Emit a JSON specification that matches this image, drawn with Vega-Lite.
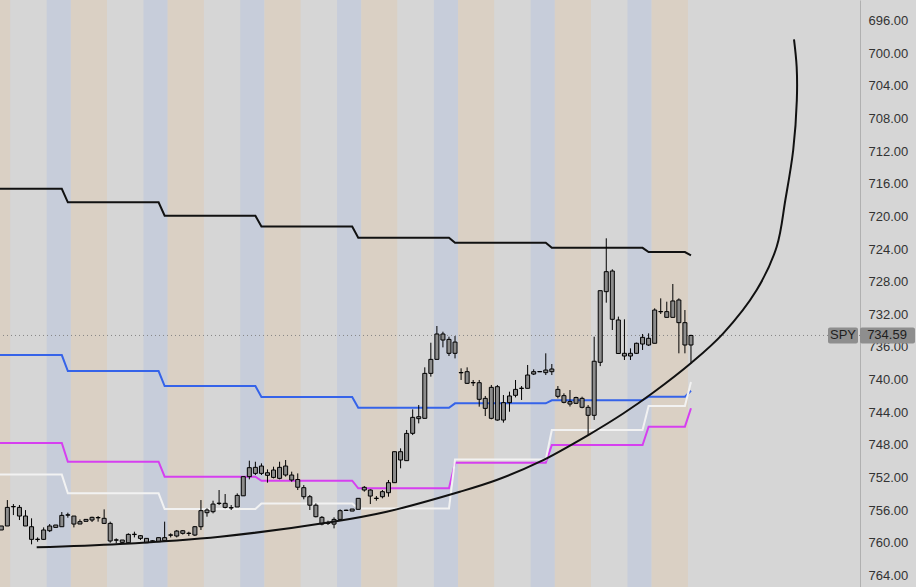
{
  "$schema": "https://vega.github.io/schema/vega-lite/v6.json",
  "width": 860,
  "height": 587,
  "autosize": {"type": "none"},
  "padding": {"left": 0, "top": 0, "right": 56, "bottom": 0},
  "background": "#d6d6d6",
  "config": {"view": {"stroke": null, "fill": "#d6d6d6"}, "font": "Liberation Sans", "axisY": {"labelOverlap": false}},
  "resolve": {"scale": {"color": "independent"}},
  "datasets": {
    "bands": [
      {"s": -0.5, "e": 5.5, "session": "pre"}, {"s": 5.5, "e": 11.5, "session": "rth"}, {"s": 11.5, "e": 15.5, "session": "post"},
      {"s": 15.5, "e": 21.5, "session": "pre"}, {"s": 21.5, "e": 27.5, "session": "rth"}, {"s": 27.5, "e": 31.5, "session": "post"},
      {"s": 31.5, "e": 37.5, "session": "pre"}, {"s": 37.5, "e": 43.5, "session": "rth"}, {"s": 43.5, "e": 47.5, "session": "post"},
      {"s": 47.5, "e": 53.5, "session": "pre"}, {"s": 53.5, "e": 59.5, "session": "rth"}, {"s": 59.5, "e": 63.5, "session": "post"},
      {"s": 63.5, "e": 69.5, "session": "pre"}, {"s": 69.5, "e": 75.5, "session": "rth"}, {"s": 75.5, "e": 79.5, "session": "post"},
      {"s": 79.5, "e": 85.5, "session": "pre"}, {"s": 85.5, "e": 91.5, "session": "rth"}, {"s": 91.5, "e": 95.5, "session": "post"},
      {"s": 95.5, "e": 101.5, "session": "pre"}, {"s": 101.5, "e": 107.5, "session": "rth"}, {"s": 107.5, "e": 111.5, "session": "post"},
      {"s": 111.5, "e": 117.5, "session": "pre"}
    ],
    "last": [{"sym": "SPY", "price": 734.59, "label": "734.59"}],
    "lines": [
      {"s": "black", "k": 3, "v": 716.6}, {"s": "black", "k": 14, "v": 716.6}, {"s": "black", "k": 15, "v": 718.27}, {"s": "black", "k": 30, "v": 718.27},
      {"s": "black", "k": 31, "v": 719.91}, {"s": "black", "k": 46, "v": 719.91}, {"s": "black", "k": 47, "v": 721.23}, {"s": "black", "k": 62, "v": 721.23},
      {"s": "black", "k": 63, "v": 722.6}, {"s": "black", "k": 78, "v": 722.6}, {"s": "black", "k": 79, "v": 723.23}, {"s": "black", "k": 94, "v": 723.23},
      {"s": "black", "k": 95, "v": 723.85}, {"s": "black", "k": 110, "v": 723.85}, {"s": "black", "k": 111, "v": 724.36}, {"s": "black", "k": 117, "v": 724.36},
      {"s": "black", "k": 118, "v": 724.77},
      {"s": "blue", "k": 3, "v": 736.99}, {"s": "blue", "k": 14, "v": 736.99}, {"s": "blue", "k": 15, "v": 738.95}, {"s": "blue", "k": 30, "v": 738.95},
      {"s": "blue", "k": 31, "v": 740.79}, {"s": "blue", "k": 46, "v": 740.79}, {"s": "blue", "k": 47, "v": 742.14}, {"s": "blue", "k": 62, "v": 742.14},
      {"s": "blue", "k": 63, "v": 743.46}, {"s": "blue", "k": 78, "v": 743.46}, {"s": "blue", "k": 79, "v": 742.91}, {"s": "blue", "k": 94, "v": 742.91},
      {"s": "blue", "k": 95, "v": 742.54}, {"s": "blue", "k": 110, "v": 742.54}, {"s": "blue", "k": 111, "v": 742.09}, {"s": "blue", "k": 117, "v": 742.09},
      {"s": "blue", "k": 118, "v": 741.38},
      {"s": "magenta", "k": 3, "v": 747.78}, {"s": "magenta", "k": 14, "v": 747.78}, {"s": "magenta", "k": 15, "v": 750.07}, {"s": "magenta", "k": 30, "v": 750.07},
      {"s": "magenta", "k": 31, "v": 751.91}, {"s": "magenta", "k": 46, "v": 751.91}, {"s": "magenta", "k": 47, "v": 752.4}, {"s": "magenta", "k": 62, "v": 752.4},
      {"s": "magenta", "k": 63, "v": 753.33}, {"s": "magenta", "k": 78, "v": 753.33}, {"s": "magenta", "k": 79, "v": 750.19}, {"s": "magenta", "k": 94, "v": 750.19},
      {"s": "magenta", "k": 95, "v": 748.02}, {"s": "magenta", "k": 110, "v": 748.02}, {"s": "magenta", "k": 111, "v": 745.77}, {"s": "magenta", "k": 117, "v": 745.77},
      {"s": "magenta", "k": 118, "v": 743.52},
      {"s": "white", "k": 3, "v": 751.65}, {"s": "white", "k": 14, "v": 751.65}, {"s": "white", "k": 15, "v": 753.95}, {"s": "white", "k": 30, "v": 753.95},
      {"s": "white", "k": 31, "v": 755.87}, {"s": "white", "k": 46, "v": 755.87}, {"s": "white", "k": 47, "v": 755.2}, {"s": "white", "k": 62, "v": 755.2},
      {"s": "white", "k": 63, "v": 755.8}, {"s": "white", "k": 78, "v": 755.8}, {"s": "white", "k": 79, "v": 749.8}, {"s": "white", "k": 94, "v": 749.8},
      {"s": "white", "k": 95, "v": 746.18}, {"s": "white", "k": 110, "v": 746.18}, {"s": "white", "k": 111, "v": 743.24}, {"s": "white", "k": 117, "v": 743.24},
      {"s": "white", "k": 118, "v": 740.3}
    ],
    "candles": [
      {"k": 4, "o": 757.95, "c": 758.44, "lo": 757.95, "hi": 758.44},
      {"k": 5, "o": 757.95, "c": 755.67, "lo": 754.77, "hi": 757.95},
      {"k": 6, "o": 755.56, "c": 755.6, "lo": 755.26, "hi": 756.61},
      {"k": 7, "o": 755.67, "c": 756.73, "lo": 755.38, "hi": 757.22},
      {"k": 8, "o": 756.73, "c": 757.95, "lo": 756.0, "hi": 757.95},
      {"k": 9, "o": 758.04, "c": 759.59, "lo": 757.01, "hi": 760.2},
      {"k": 10, "o": 759.57, "c": 759.61, "lo": 759.35, "hi": 759.88},
      {"k": 11, "o": 759.59, "c": 758.44, "lo": 758.12, "hi": 759.67},
      {"k": 12, "o": 758.53, "c": 757.95, "lo": 757.71, "hi": 758.69},
      {"k": 13, "o": 758.12, "c": 757.83, "lo": 757.83, "hi": 758.12},
      {"k": 14, "o": 758.04, "c": 756.65, "lo": 756.24, "hi": 758.04},
      {"k": 15, "o": 756.58, "c": 756.62, "lo": 756.32, "hi": 756.93},
      {"k": 16, "o": 756.73, "c": 757.71, "lo": 756.73, "hi": 758.12},
      {"k": 17, "o": 757.71, "c": 757.42, "lo": 757.14, "hi": 757.71},
      {"k": 18, "o": 757.38, "c": 757.14, "lo": 757.14, "hi": 757.38},
      {"k": 19, "o": 757.22, "c": 756.89, "lo": 756.81, "hi": 757.46},
      {"k": 20, "o": 756.91, "c": 756.95, "lo": 756.73, "hi": 757.42},
      {"k": 21, "o": 757.01, "c": 757.63, "lo": 755.91, "hi": 757.71},
      {"k": 22, "o": 757.63, "c": 759.79, "lo": 757.42, "hi": 760.0},
      {"k": 23, "o": 759.65, "c": 759.69, "lo": 759.47, "hi": 760.08},
      {"k": 24, "o": 759.67, "c": 759.96, "lo": 759.67, "hi": 759.96},
      {"k": 25, "o": 760.0, "c": 758.98, "lo": 758.85, "hi": 760.08},
      {"k": 26, "o": 758.96, "c": 759.0, "lo": 758.65, "hi": 759.35},
      {"k": 27, "o": 759.14, "c": 759.47, "lo": 759.06, "hi": 759.67},
      {"k": 28, "o": 759.47, "c": 760.0, "lo": 759.47, "hi": 760.0},
      {"k": 29, "o": 759.77, "c": 759.81, "lo": 759.7, "hi": 759.85},
      {"k": 30, "o": 759.88, "c": 759.38, "lo": 759.38, "hi": 759.88},
      {"k": 31, "o": 759.38, "c": 759.75, "lo": 757.42, "hi": 759.88},
      {"k": 32, "o": 759.04, "c": 759.08, "lo": 758.85, "hi": 759.35},
      {"k": 33, "o": 759.18, "c": 758.57, "lo": 758.44, "hi": 759.35},
      {"k": 34, "o": 758.53, "c": 758.85, "lo": 758.44, "hi": 759.0},
      {"k": 35, "o": 758.83, "c": 758.87, "lo": 758.65, "hi": 759.18},
      {"k": 36, "o": 759.06, "c": 758.04, "lo": 757.95, "hi": 759.18},
      {"k": 37, "o": 758.04, "c": 756.07, "lo": 754.77, "hi": 758.44},
      {"k": 38, "o": 756.32, "c": 755.99, "lo": 755.79, "hi": 756.81},
      {"k": 39, "o": 756.2, "c": 755.26, "lo": 754.85, "hi": 756.4},
      {"k": 40, "o": 755.15, "c": 755.19, "lo": 753.54, "hi": 755.38},
      {"k": 41, "o": 755.17, "c": 755.67, "lo": 754.03, "hi": 755.79},
      {"k": 42, "o": 755.7, "c": 755.74, "lo": 755.38, "hi": 755.99},
      {"k": 43, "o": 755.62, "c": 754.2, "lo": 753.95, "hi": 755.62},
      {"k": 44, "o": 754.25, "c": 751.9, "lo": 751.9, "hi": 754.25},
      {"k": 45, "o": 751.9, "c": 750.8, "lo": 749.94, "hi": 752.23},
      {"k": 46, "o": 750.76, "c": 751.5, "lo": 750.07, "hi": 751.7},
      {"k": 47, "o": 751.5, "c": 750.6, "lo": 750.27, "hi": 751.7},
      {"k": 48, "o": 751.42, "c": 751.74, "lo": 751.01, "hi": 752.64},
      {"k": 49, "o": 751.99, "c": 751.09, "lo": 750.68, "hi": 752.11},
      {"k": 50, "o": 752.11, "c": 750.76, "lo": 750.07, "hi": 752.23},
      {"k": 51, "o": 750.6, "c": 751.7, "lo": 749.86, "hi": 751.9},
      {"k": 52, "o": 751.7, "c": 752.31, "lo": 751.29, "hi": 752.52},
      {"k": 53, "o": 752.25, "c": 753.2, "lo": 751.5, "hi": 753.54},
      {"k": 54, "o": 753.25, "c": 754.36, "lo": 752.93, "hi": 754.68},
      {"k": 55, "o": 754.36, "c": 755.4, "lo": 754.15, "hi": 755.99},
      {"k": 56, "o": 755.4, "c": 756.81, "lo": 755.18, "hi": 756.89},
      {"k": 57, "o": 756.89, "c": 757.71, "lo": 756.73, "hi": 757.87},
      {"k": 58, "o": 757.58, "c": 757.62, "lo": 757.3, "hi": 757.83},
      {"k": 59, "o": 757.72, "c": 757.14, "lo": 756.89, "hi": 758.24},
      {"k": 60, "o": 757.14, "c": 756.07, "lo": 755.91, "hi": 757.22},
      {"k": 61, "o": 756.01, "c": 756.05, "lo": 755.95, "hi": 756.1},
      {"k": 62, "o": 756.12, "c": 755.87, "lo": 755.87, "hi": 756.12},
      {"k": 63, "o": 755.91, "c": 754.56, "lo": 754.56, "hi": 755.91},
      {"k": 64, "o": 753.54, "c": 753.21, "lo": 753.05, "hi": 753.74},
      {"k": 65, "o": 753.54, "c": 754.28, "lo": 753.46, "hi": 755.26},
      {"k": 66, "o": 754.54, "c": 754.58, "lo": 754.28, "hi": 754.85},
      {"k": 67, "o": 754.36, "c": 753.74, "lo": 753.54, "hi": 754.56},
      {"k": 68, "o": 753.87, "c": 752.64, "lo": 752.31, "hi": 754.36},
      {"k": 69, "o": 752.64, "c": 748.84, "lo": 748.84, "hi": 752.64},
      {"k": 70, "o": 749.86, "c": 748.84, "lo": 748.43, "hi": 750.88},
      {"k": 71, "o": 749.94, "c": 746.6, "lo": 746.18, "hi": 749.94},
      {"k": 72, "o": 746.59, "c": 744.63, "lo": 743.65, "hi": 746.8},
      {"k": 73, "o": 744.79, "c": 744.55, "lo": 743.12, "hi": 745.37},
      {"k": 74, "o": 744.75, "c": 739.24, "lo": 738.5, "hi": 744.75},
      {"k": 75, "o": 739.24, "c": 737.52, "lo": 735.48, "hi": 739.64},
      {"k": 76, "o": 737.52, "c": 734.41, "lo": 733.43, "hi": 737.52},
      {"k": 77, "o": 734.41, "c": 735.15, "lo": 734.13, "hi": 736.05},
      {"k": 78, "o": 735.07, "c": 736.78, "lo": 734.74, "hi": 737.11},
      {"k": 79, "o": 736.78, "c": 735.4, "lo": 734.66, "hi": 737.4},
      {"k": 80, "o": 739.13, "c": 739.17, "lo": 738.62, "hi": 740.05},
      {"k": 81, "o": 739.03, "c": 740.46, "lo": 738.5, "hi": 740.54},
      {"k": 82, "o": 740.36, "c": 740.4, "lo": 740.05, "hi": 740.79},
      {"k": 83, "o": 740.38, "c": 742.42, "lo": 740.05, "hi": 743.32},
      {"k": 84, "o": 742.3, "c": 743.53, "lo": 742.01, "hi": 744.47},
      {"k": 85, "o": 744.75, "c": 740.95, "lo": 740.66, "hi": 744.87},
      {"k": 86, "o": 740.87, "c": 744.96, "lo": 740.66, "hi": 745.04},
      {"k": 87, "o": 744.96, "c": 742.83, "lo": 741.89, "hi": 745.28},
      {"k": 88, "o": 742.83, "c": 742.01, "lo": 741.48, "hi": 743.94},
      {"k": 89, "o": 741.93, "c": 741.2, "lo": 740.05, "hi": 742.18},
      {"k": 90, "o": 741.05, "c": 741.09, "lo": 740.79, "hi": 742.5},
      {"k": 91, "o": 741.07, "c": 739.44, "lo": 738.21, "hi": 741.07},
      {"k": 92, "o": 739.32, "c": 739.03, "lo": 738.74, "hi": 739.44},
      {"k": 93, "o": 739.01, "c": 739.05, "lo": 739.01, "hi": 739.05},
      {"k": 94, "o": 738.83, "c": 739.15, "lo": 736.78, "hi": 739.44},
      {"k": 95, "o": 739.03, "c": 738.7, "lo": 738.09, "hi": 739.44},
      {"k": 96, "o": 741.2, "c": 742.05, "lo": 740.79, "hi": 742.3},
      {"k": 97, "o": 741.97, "c": 742.79, "lo": 741.69, "hi": 742.91},
      {"k": 98, "o": 743.0, "c": 742.7, "lo": 741.28, "hi": 743.3},
      {"k": 99, "o": 742.91, "c": 742.2, "lo": 742.1, "hi": 743.0},
      {"k": 100, "o": 742.3, "c": 743.4, "lo": 742.1, "hi": 743.52},
      {"k": 101, "o": 743.4, "c": 744.38, "lo": 743.12, "hi": 746.85},
      {"k": 102, "o": 744.38, "c": 737.75, "lo": 734.74, "hi": 744.95},
      {"k": 103, "o": 737.88, "c": 729.1, "lo": 729.1, "hi": 738.35},
      {"k": 104, "o": 729.22, "c": 726.77, "lo": 722.68, "hi": 730.57},
      {"k": 105, "o": 726.69, "c": 732.61, "lo": 726.48, "hi": 733.92},
      {"k": 106, "o": 732.69, "c": 736.8, "lo": 732.28, "hi": 736.86},
      {"k": 107, "o": 736.78, "c": 737.11, "lo": 732.61, "hi": 737.6},
      {"k": 108, "o": 737.11, "c": 736.78, "lo": 736.17, "hi": 737.6},
      {"k": 109, "o": 736.78, "c": 735.55, "lo": 735.47, "hi": 736.86},
      {"k": 110, "o": 735.64, "c": 734.82, "lo": 734.41, "hi": 736.37},
      {"k": 111, "o": 734.94, "c": 735.76, "lo": 734.33, "hi": 735.88},
      {"k": 112, "o": 735.55, "c": 731.47, "lo": 731.26, "hi": 735.55},
      {"k": 113, "o": 731.65, "c": 731.69, "lo": 730.04, "hi": 731.96},
      {"k": 114, "o": 731.67, "c": 732.37, "lo": 730.45, "hi": 732.37},
      {"k": 115, "o": 732.37, "c": 730.36, "lo": 728.28, "hi": 732.37},
      {"k": 116, "o": 730.24, "c": 733.02, "lo": 730.04, "hi": 736.78},
      {"k": 117, "o": 733.02, "c": 735.76, "lo": 731.47, "hi": 736.78},
      {"k": 118, "o": 735.76, "c": 734.59, "lo": 734.5, "hi": 738.01}
    ],
    "curve": [
      {"i": 1, "k": 9.85, "v": 760.57}, {"i": 2, "k": 23.62, "v": 760.16}, {"i": 3, "k": 40.15, "v": 759.26},
      {"i": 4, "k": 58.83, "v": 757.43}, {"i": 5, "k": 67.7, "v": 756.2}, {"i": 6, "k": 79.8, "v": 753.75},
      {"i": 7, "k": 85.88, "v": 752.31}, {"i": 8, "k": 93.04, "v": 750.07}, {"i": 9, "k": 101.02, "v": 746.8},
      {"i": 10, "k": 106.8, "v": 744.16}, {"i": 11, "k": 111.77, "v": 741.59}, {"i": 12, "k": 118.12, "v": 737.91},
      {"i": 13, "k": 123.34, "v": 734.33}, {"i": 14, "k": 128.86, "v": 729.02}, {"i": 15, "k": 132.17, "v": 723.71},
      {"i": 16, "k": 133.6, "v": 717.98}, {"i": 17, "k": 134.9, "v": 711.85}, {"i": 18, "k": 135.5, "v": 705.72},
      {"i": 19, "k": 135.47, "v": 701.64}, {"i": 20, "k": 135.03, "v": 698.28}
    ]
  },
  "layer": [
    {
      "data": {"name": "bands"},
      "mark": {"type": "rect", "clip": true},
      "encoding": {
        "x": {"field": "s", "type": "quantitative", "scale": {"domain": [3.785, 145.94], "nice": false, "zero": false, "padding": 0}, "axis": null},
        "x2": {"field": "e"},
        "color": {"field": "session", "type": "nominal", "scale": {"domain": ["pre", "rth", "post"], "range": ["#dad0c4", "#d6d6d6", "#c7cdda"]}, "legend": null}
      }
    },
    {
      "data": {"name": "last"},
      "mark": {"type": "rule", "strokeDash": [1, 3], "color": "#858585", "strokeWidth": 1},
      "encoding": {
        "y": {"field": "price", "type": "quantitative", "scale": {"domain": [693.46, 765.43], "reverse": true, "nice": false, "zero": false, "padding": 0},
          "axis": {"orient": "right", "values": [696, 700, 704, 708, 712, 716, 720, 724, 728, 732, 736, 740, 744, 748, 752, 756, 760, 764], "format": ".2f", "title": null, "ticks": false, "tickSize": 0, "grid": false, "domain": true, "domainColor": "#b0b0b0", "domainWidth": 1, "labelPadding": 8, "labelFontSize": 13, "labelColor": "#333333", "labelFont": "Liberation Sans", "labelFlush": false, "labelOverlap": false, "labelBound": false}}
      }
    },
    {
      "data": {"name": "lines"},
      "mark": {"type": "line", "clip": true, "strokeWidth": 2},
      "encoding": {
        "x": {"field": "k", "type": "quantitative", "scale": {"domain": [3.785, 145.94], "nice": false, "zero": false, "padding": 0}, "axis": null},
        "y": {"field": "v", "type": "quantitative", "scale": {"domain": [693.46, 765.43], "reverse": true, "nice": false, "zero": false, "padding": 0},
          "axis": {"orient": "right", "values": [696, 700, 704, 708, 712, 716, 720, 724, 728, 732, 736, 740, 744, 748, 752, 756, 760, 764], "format": ".2f", "title": null, "ticks": false, "tickSize": 0, "grid": false, "domain": true, "domainColor": "#b0b0b0", "domainWidth": 1, "labelPadding": 8, "labelFontSize": 13, "labelColor": "#333333", "labelFont": "Liberation Sans", "labelFlush": false, "labelOverlap": false, "labelBound": false}},
        "color": {"field": "s", "type": "nominal", "scale": {"domain": ["black", "blue", "magenta", "white"], "range": ["#111111", "#3563e9", "#d63ff0", "#f2f2f2"]}, "legend": null}
      }
    },
    {
      "data": {"name": "candles"},
      "mark": {"type": "rule", "color": "#000000", "strokeWidth": 1},
      "encoding": {
        "x": {"field": "k", "type": "quantitative", "scale": {"domain": [3.785, 145.94], "nice": false, "zero": false, "padding": 0}, "axis": null},
        "y": {"field": "lo", "type": "quantitative", "scale": {"domain": [693.46, 765.43], "reverse": true, "nice": false, "zero": false, "padding": 0},
          "axis": {"orient": "right", "values": [696, 700, 704, 708, 712, 716, 720, 724, 728, 732, 736, 740, 744, 748, 752, 756, 760, 764], "format": ".2f", "title": null, "ticks": false, "tickSize": 0, "grid": false, "domain": true, "domainColor": "#b0b0b0", "domainWidth": 1, "labelPadding": 8, "labelFontSize": 13, "labelColor": "#333333", "labelFont": "Liberation Sans", "labelFlush": false, "labelOverlap": false, "labelBound": false}},
        "y2": {"field": "hi"}
      }
    },
    {
      "data": {"name": "candles"},
      "mark": {"type": "bar", "size": 4, "fill": "#8c8c8c", "stroke": "#000000", "strokeWidth": 1},
      "encoding": {
        "x": {"field": "k", "type": "quantitative", "scale": {"domain": [3.785, 145.94], "nice": false, "zero": false, "padding": 0}, "axis": null},
        "y": {"field": "o", "type": "quantitative", "scale": {"domain": [693.46, 765.43], "reverse": true, "nice": false, "zero": false, "padding": 0},
          "axis": {"orient": "right", "values": [696, 700, 704, 708, 712, 716, 720, 724, 728, 732, 736, 740, 744, 748, 752, 756, 760, 764], "format": ".2f", "title": null, "ticks": false, "tickSize": 0, "grid": false, "domain": true, "domainColor": "#b0b0b0", "domainWidth": 1, "labelPadding": 8, "labelFontSize": 13, "labelColor": "#333333", "labelFont": "Liberation Sans", "labelFlush": false, "labelOverlap": false, "labelBound": false}},
        "y2": {"field": "c"}
      }
    },
    {
      "data": {"name": "curve"},
      "mark": {"type": "line", "clip": true, "strokeWidth": 2, "color": "#111111", "interpolate": "catmull-rom"},
      "encoding": {
        "x": {"field": "k", "type": "quantitative", "scale": {"domain": [3.785, 145.94], "nice": false, "zero": false, "padding": 0}, "axis": null},
        "y": {"field": "v", "type": "quantitative", "scale": {"domain": [693.46, 765.43], "reverse": true, "nice": false, "zero": false, "padding": 0},
          "axis": {"orient": "right", "values": [696, 700, 704, 708, 712, 716, 720, 724, 728, 732, 736, 740, 744, 748, 752, 756, 760, 764], "format": ".2f", "title": null, "ticks": false, "tickSize": 0, "grid": false, "domain": true, "domainColor": "#b0b0b0", "domainWidth": 1, "labelPadding": 8, "labelFontSize": 13, "labelColor": "#333333", "labelFont": "Liberation Sans", "labelFlush": false, "labelOverlap": false, "labelBound": false}},
        "order": {"field": "i", "type": "quantitative"}
      }
    },
    {
      "data": {"name": "last"},
      "mark": {"type": "rect", "fill": "#8e8e8e", "cornerRadius": 2, "xOffset": -32, "x2Offset": -2, "yOffset": -8, "y2Offset": 8},
      "encoding": {
        "x": {"value": "width"},
        "x2": {"value": "width"},
        "y": {"field": "price", "type": "quantitative",
          "axis": {"orient": "right", "values": [696, 700, 704, 708, 712, 716, 720, 724, 728, 732, 736, 740, 744, 748, 752, 756, 760, 764], "format": ".2f", "title": null, "ticks": false, "tickSize": 0, "grid": false, "domain": true, "domainColor": "#b0b0b0", "domainWidth": 1, "labelPadding": 8, "labelFontSize": 13, "labelColor": "#333333", "labelFont": "Liberation Sans", "labelFlush": false, "labelOverlap": false, "labelBound": false}},
        "y2": {"field": "price"}
      }
    },
    {
      "data": {"name": "last"},
      "mark": {"type": "rect", "fill": "#8e8e8e", "cornerRadius": 2, "xOffset": 0, "x2Offset": 55, "yOffset": -8, "y2Offset": 8},
      "encoding": {
        "x": {"value": "width"},
        "x2": {"value": "width"},
        "y": {"field": "price", "type": "quantitative",
          "axis": {"orient": "right", "values": [696, 700, 704, 708, 712, 716, 720, 724, 728, 732, 736, 740, 744, 748, 752, 756, 760, 764], "format": ".2f", "title": null, "ticks": false, "tickSize": 0, "grid": false, "domain": true, "domainColor": "#b0b0b0", "domainWidth": 1, "labelPadding": 8, "labelFontSize": 13, "labelColor": "#333333", "labelFont": "Liberation Sans", "labelFlush": false, "labelOverlap": false, "labelBound": false}},
        "y2": {"field": "price"}
      }
    },
    {
      "data": {"name": "last"},
      "mark": {"type": "text", "align": "center", "baseline": "middle", "dx": -17, "fontSize": 13, "color": "#1e1e1e", "font": "Liberation Sans"},
      "encoding": {
        "x": {"value": "width"},
        "y": {"field": "price", "type": "quantitative",
          "axis": {"orient": "right", "values": [696, 700, 704, 708, 712, 716, 720, 724, 728, 732, 736, 740, 744, 748, 752, 756, 760, 764], "format": ".2f", "title": null, "ticks": false, "tickSize": 0, "grid": false, "domain": true, "domainColor": "#b0b0b0", "domainWidth": 1, "labelPadding": 8, "labelFontSize": 13, "labelColor": "#333333", "labelFont": "Liberation Sans", "labelFlush": false, "labelOverlap": false, "labelBound": false}},
        "text": {"field": "sym"}
      }
    },
    {
      "data": {"name": "last"},
      "mark": {"type": "text", "align": "center", "baseline": "middle", "dx": 27, "fontSize": 13, "color": "#1e1e1e", "font": "Liberation Sans"},
      "encoding": {
        "x": {"value": "width"},
        "y": {"field": "price", "type": "quantitative",
          "axis": {"orient": "right", "values": [696, 700, 704, 708, 712, 716, 720, 724, 728, 732, 736, 740, 744, 748, 752, 756, 760, 764], "format": ".2f", "title": null, "ticks": false, "tickSize": 0, "grid": false, "domain": true, "domainColor": "#b0b0b0", "domainWidth": 1, "labelPadding": 8, "labelFontSize": 13, "labelColor": "#333333", "labelFont": "Liberation Sans", "labelFlush": false, "labelOverlap": false, "labelBound": false}},
        "text": {"field": "label"}
      }
    }
  ]
}
